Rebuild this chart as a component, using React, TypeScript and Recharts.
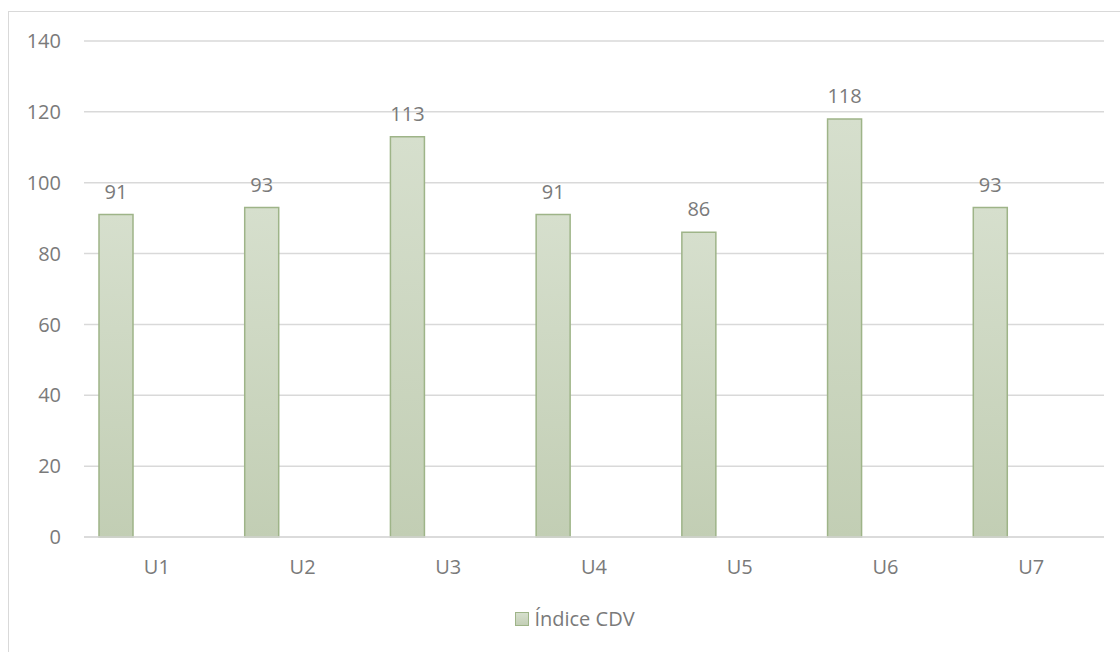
import { BarChart, Bar, XAxis, YAxis, CartesianGrid, LabelList } from 'recharts';

const units = ['U1', 'U2', 'U3', 'U4', 'U5', 'U6', 'U7'];
const cdvValues = [91, 93, 113, 91, 86, 118, 93];
const yTicks = [0, 20, 40, 60, 80, 100, 120, 140];

const FONT = '"Open Sans", "Liberation Sans", sans-serif';
const TEXT = '#7a7a7a';

const data = units.map((u, i) => ({ unit: u, cdv: cdvValues[i], spacer: null }));

function LegendBox() {
  return (
    <div style={{ position: 'absolute', left: 0, top: 605, width: 1120, display: 'flex', justifyContent: 'center', fontFamily: FONT, fontSize: 20, color: TEXT }}>
      <div style={{ display: 'flex', alignItems: 'center', marginLeft: 30 }}>
        <span style={{ width: 12, height: 12, border: '1.5px solid #9eb488', background: 'linear-gradient(#d6dfcd, #c3cfb6)', marginRight: 5, display: 'inline-block' }} />
        <span>Índice CDV</span>
      </div>
    </div>
  );
}

export default function App() {
  return (
    <div style={{ position: 'absolute', left: 0, top: 0, width: 1120, height: 652, overflow: 'hidden', background: '#fff' }}>
      <div style={{ position: 'absolute', left: 8, top: 11, width: 1200, height: 800, border: '1.5px solid #d9d9d9' }} />
      <BarChart
        width={1120}
        height={652}
        data={data}
        margin={{ top: 41, right: 16, bottom: 75, left: 14 }}
        barGap={48}
        style={{ position: 'absolute', left: 0, top: 0 }}
      >
        <defs>
          <linearGradient id="cdvFill" x1="0" y1="0" x2="0" y2="1">
            <stop offset="0%" stopColor="#d6dfcd" />
            <stop offset="100%" stopColor="#c2ceb4" />
          </linearGradient>
        </defs>
        <CartesianGrid vertical={false} stroke="#d9d9d9" strokeWidth={1.5} />
        <XAxis
          dataKey="unit"
          axisLine={{ stroke: '#d9d9d9', strokeWidth: 1.5 }}
          tickLine={false}
          tickMargin={17}
          height={40}
          tick={{ fontSize: 20, fill: TEXT, fontFamily: FONT }}
        />
        <YAxis
          domain={[0, 140]}
          ticks={yTicks}
          width={70}
          axisLine={false}
          tickLine={false}
          tickMargin={17}
          interval={0}
          tick={{ fontSize: 20, fill: TEXT, fontFamily: FONT }}
        />
        <Bar dataKey="cdv" barSize={34} fill="url(#cdvFill)" stroke="#9eb488" strokeWidth={1.5} isAnimationActive={false}>
          <LabelList dataKey="cdv" position="top" offset={16} style={{ fontSize: 20, fill: TEXT, fontFamily: FONT }} />
        </Bar>
        <Bar dataKey="spacer" barSize={34} fill="none" legendType="none" isAnimationActive={false} />
      </BarChart>
      <LegendBox />
    </div>
  );
}
